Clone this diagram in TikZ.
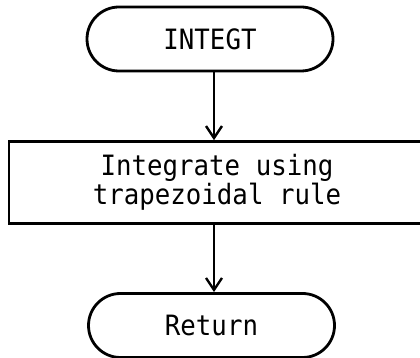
\documentclass[tikz,border=0pt]{standalone}
\usepackage{fontspec}
\setmonofont[FakeStretch=0.92]{DejaVu Sans Mono}
\usetikzlibrary{shapes.misc,arrows.meta}
\tikzset{
  terminal/.style={draw, line width=2.8pt, rounded rectangle, minimum width=246pt,
    minimum height=64pt, inner sep=0pt, font=\flowfont},
  process/.style={draw, line width=2.6pt, rectangle, minimum width=416pt,
    minimum height=82pt, inner sep=0pt, align=center, font=\flowfont},
  flow/.style={line width=2.4pt, -{Straight Barb[length=12pt,width=16pt,line width=2.4pt]}}
}
\newcommand{\flowfont}{\ttfamily\fontsize{28}{26.5}\selectfont}
\begin{document}
\begin{tikzpicture}[x=1pt,y=1pt]
  \useasboundingbox (0,0) rectangle (420,358);
  % start terminal, process box, return terminal
  \node[terminal] (start) at (210,319) {INTEGT};
  \node[process]  (integ) at (217,175.5) {Integrate using\\trapezoidal rule};
  \node[terminal] (ret)   at (211.5,32.5) {Return};
  % vertical flow line
  \coordinate (spine) at (214,0);
  \draw[flow] (start.south -| spine) -- (integ.north -| spine);
  \draw[flow] (integ.south -| spine) -- (ret.north -| spine);
\end{tikzpicture}
\end{document}
